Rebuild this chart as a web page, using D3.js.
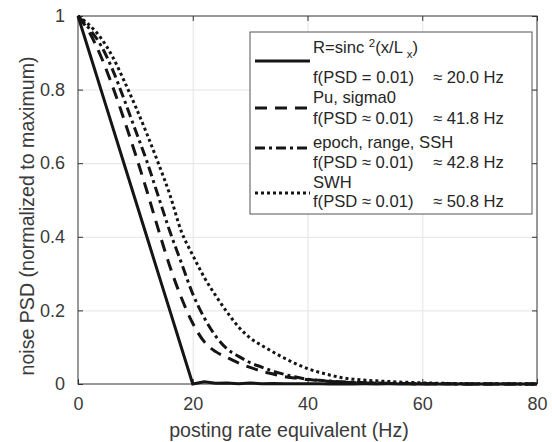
<!DOCTYPE html>
<html lang="en">
<head>
<meta charset="UTF-8">
<title>Noise PSD vs posting rate</title>
<script src="https://cdnjs.cloudflare.com/ajax/libs/d3/7.8.5/d3.min.js"></script>
<style>
    body { margin: 0; background: #fff; }
    svg { display: block; font-family: "Liberation Sans", Arial, sans-serif; }
    .tick text { fill: #3a3a3a; font-size: 18px; }
    .axis-label { fill: #3a3a3a; font-size: 19.6px; }
    .legend text { fill: #262626; font-size: 16.6px; }
</style>
</head>
<body>
<svg id="svg" width="552" height="442"></svg>
<script>
    // frequency grid (Hz) shared by all curves
    const hz = d3.range(0, 82, 2);

    // R = sinc^2 response (triangle with tiny ripples after 20 Hz)
    const sincPsd = [1.0, 0.9, 0.8, 0.7, 0.6, 0.5, 0.4, 0.3, 0.2, 0.1, 0.0,
        0.006, 0.002, 0.003, 0.001, 0.0025, 0.001, 0.0015, 0.0005, 0.001, 0.0005,
        0.0008, 0.0003, 0.0006, 0.0002, 0.0005, 0.0002, 0.0004, 0.0001, 0.0003, 0.0001,
        0.0002, 0.0001, 0.0002, 0.0001, 0.0001, 0.0001, 0.0001, 0, 0.0001, 0];

    // Pu, sigma0
    const puPsd = [1.0, 0.955, 0.89, 0.81, 0.72, 0.625, 0.525, 0.42, 0.32, 0.235, 0.165,
        0.115, 0.088, 0.072, 0.057, 0.045, 0.035, 0.027, 0.02, 0.016, 0.012,
        0.0095, 0.007, 0.005, 0.004, 0.003, 0.0022, 0.0016, 0.0012, 0.001, 0.0007,
        0.0005, 0.0004, 0.0003, 0.0002, 0.0002, 0.0001, 0.0001, 0.0001, 0, 0];

    // epoch, range, SSH
    const epochPsd = [1.0, 0.965, 0.92, 0.855, 0.775, 0.69, 0.605, 0.51, 0.415, 0.33, 0.245,
        0.18, 0.13, 0.095, 0.075, 0.058, 0.046, 0.035, 0.026, 0.019, 0.013,
        0.0105, 0.008, 0.006, 0.0045, 0.0035, 0.0026, 0.002, 0.0014, 0.001, 0.0008,
        0.0006, 0.0004, 0.0003, 0.0002, 0.0002, 0.0001, 0.0001, 0.0001, 0, 0];

    // SWH
    const swhPsd = [1.0, 0.975, 0.94, 0.89, 0.825, 0.755, 0.68, 0.6, 0.515, 0.415, 0.35,
        0.29, 0.24, 0.195, 0.155, 0.125, 0.105, 0.087, 0.07, 0.055, 0.042,
        0.032, 0.024, 0.017, 0.013, 0.0105, 0.0085, 0.0068, 0.0054, 0.0042, 0.003,
        0.0023, 0.0018, 0.0014, 0.001, 0.0008, 0.0006, 0.0005, 0.0004, 0.0003, 0.0003];

    const xTicks = [0, 20, 40, 60, 80];
    const yTicks = [0, 0.2, 0.4, 0.6, 0.8, 1];
    const yTickLabels = ["0", "0.2", "0.4", "0.6", "0.8", "1"];

    const series = [
        { name: "sinc", values: sincPsd, dash: null, curve: d3.curveLinear },
        { name: "pu", values: puPsd, dash: "12,8", curve: d3.curveMonotoneX },
        { name: "epoch", values: epochPsd, dash: "10,4,3,4", curve: d3.curveMonotoneX },
        { name: "swh", values: swhPsd, dash: "3,3", curve: d3.curveMonotoneX }
    ];

    const svg = d3.select("#svg");
    const plotL = 78, plotR = 537, plotT = 16, plotB = 384;

    const x = d3.scaleLinear().domain([0, 80]).range([plotL, plotR]);
    const y = d3.scaleLinear().domain([0, 1]).range([plotB, plotT]);

    // grid
    svg.append("g")
        .attr("transform", `translate(0,${plotB})`)
        .call(d3.axisBottom(x).tickValues([20, 40, 60]).tickSize(-(plotB - plotT)).tickFormat(""))
        .call(g => g.select(".domain").remove())
        .call(g => g.selectAll("line").attr("stroke", "#e3e3e3").attr("stroke-width", 1));
    svg.append("g")
        .attr("transform", `translate(${plotL},0)`)
        .call(d3.axisLeft(y).tickValues([0.2, 0.4, 0.6, 0.8]).tickSize(-(plotR - plotL)).tickFormat(""))
        .call(g => g.select(".domain").remove())
        .call(g => g.selectAll("line").attr("stroke", "#e3e3e3").attr("stroke-width", 1));

    // axes with inward ticks
    function styleAxis(g) {
        g.select(".domain").remove();
        g.selectAll("line").attr("stroke", "#333");
    }
    svg.append("g")
        .attr("transform", `translate(0,${plotB})`)
        .call(d3.axisBottom(x).tickValues(xTicks).tickSize(-5).tickPadding(13))
        .call(styleAxis)
        .call(g => g.selectAll("text").attr("font-size", null));
    svg.append("g")
        .attr("transform", `translate(0,${plotT})`)
        .call(d3.axisTop(x).tickValues(xTicks).tickSize(-5).tickFormat(""))
        .call(styleAxis);
    svg.append("g")
        .attr("transform", `translate(${plotL},0)`)
        .call(d3.axisLeft(y).tickValues(yTicks).tickSize(-5).tickPadding(13)
            .tickFormat((d, i) => yTickLabels[i]))
        .call(styleAxis)
        .call(g => g.selectAll("text").attr("font-size", null));
    svg.append("g")
        .attr("transform", `translate(${plotR},0)`)
        .call(d3.axisRight(y).tickValues(yTicks).tickSize(-5).tickFormat(""))
        .call(styleAxis);

    // box
    svg.append("rect")
        .attr("x", plotL).attr("y", plotT)
        .attr("width", plotR - plotL).attr("height", plotB - plotT)
        .attr("fill", "none").attr("stroke", "#333").attr("stroke-width", 1);

    // curves
    series.forEach(s => {
        const line = d3.line()
            .x((d, i) => x(hz[i]))
            .y(d => y(d))
            .curve(s.curve);
        svg.append("path")
            .datum(s.values)
            .attr("d", line)
            .attr("fill", "none")
            .attr("stroke", "#151515")
            .attr("stroke-width", 3)
            .attr("stroke-dasharray", s.dash);
    });

    // axis labels
    svg.append("text")
        .attr("class", "axis-label")
        .attr("x", 289)
        .attr("y", 437)
        .attr("text-anchor", "middle")
        .text("posting rate equivalent (Hz)");
    svg.append("text")
        .attr("class", "axis-label")
        .attr("transform", "translate(34,216) rotate(-90)")
        .attr("text-anchor", "middle")
        .text("noise PSD (normalized to maximum)");

    // legend
    const legend = svg.append("g").attr("class", "legend");
    legend.append("rect")
        .attr("x", 250).attr("y", 32)
        .attr("width", 282).attr("height", 182)
        .attr("fill", "#fff").attr("stroke", "#555").attr("stroke-width", 1);

    const legendRows = [
        { s: series[0], sampleY: 61, y1: 53, y2: 83, f: "f(PSD = 0.01)", hzText: "\u2248 20.0 Hz" },
        { s: series[1], sampleY: 108, y1: 103, y2: 124, label: "Pu, sigma0", f: "f(PSD \u2248 0.01)", hzText: "\u2248 41.8 Hz" },
        { s: series[2], sampleY: 148, y1: 148, y2: 168, label: "epoch, range, SSH", f: "f(PSD \u2248 0.01)", hzText: "\u2248 42.8 Hz" },
        { s: series[3], sampleY: 193, y1: 188, y2: 207, label: "SWH", f: "f(PSD \u2248 0.01)", hzText: "\u2248 50.8 Hz" }
    ];

    legendRows.forEach((r, idx) => {
        legend.append("line")
            .attr("x1", 255).attr("x2", 310)
            .attr("y1", r.sampleY).attr("y2", r.sampleY)
            .attr("stroke", "#151515").attr("stroke-width", 3)
            .attr("stroke-dasharray", r.s.dash);
        const t = legend.append("text").attr("x", 313).attr("y", r.y1);
        if (idx === 0) {
            t.append("tspan").text("R=sinc ");
            t.append("tspan").attr("font-size", "11.5px").attr("dy", -6).text("2");
            t.append("tspan").attr("dy", 6).text("(x/L ");
            t.append("tspan").attr("font-size", "11.5px").attr("dy", 5).text("x");
            t.append("tspan").attr("dy", -5).text(")");
        } else {
            t.text(r.label);
        }
        legend.append("text").attr("x", 313).attr("y", r.y2).text(r.f);
        legend.append("text").attr("x", 433).attr("y", r.y2).text(r.hzText);
    });
</script>
</body>
</html>
